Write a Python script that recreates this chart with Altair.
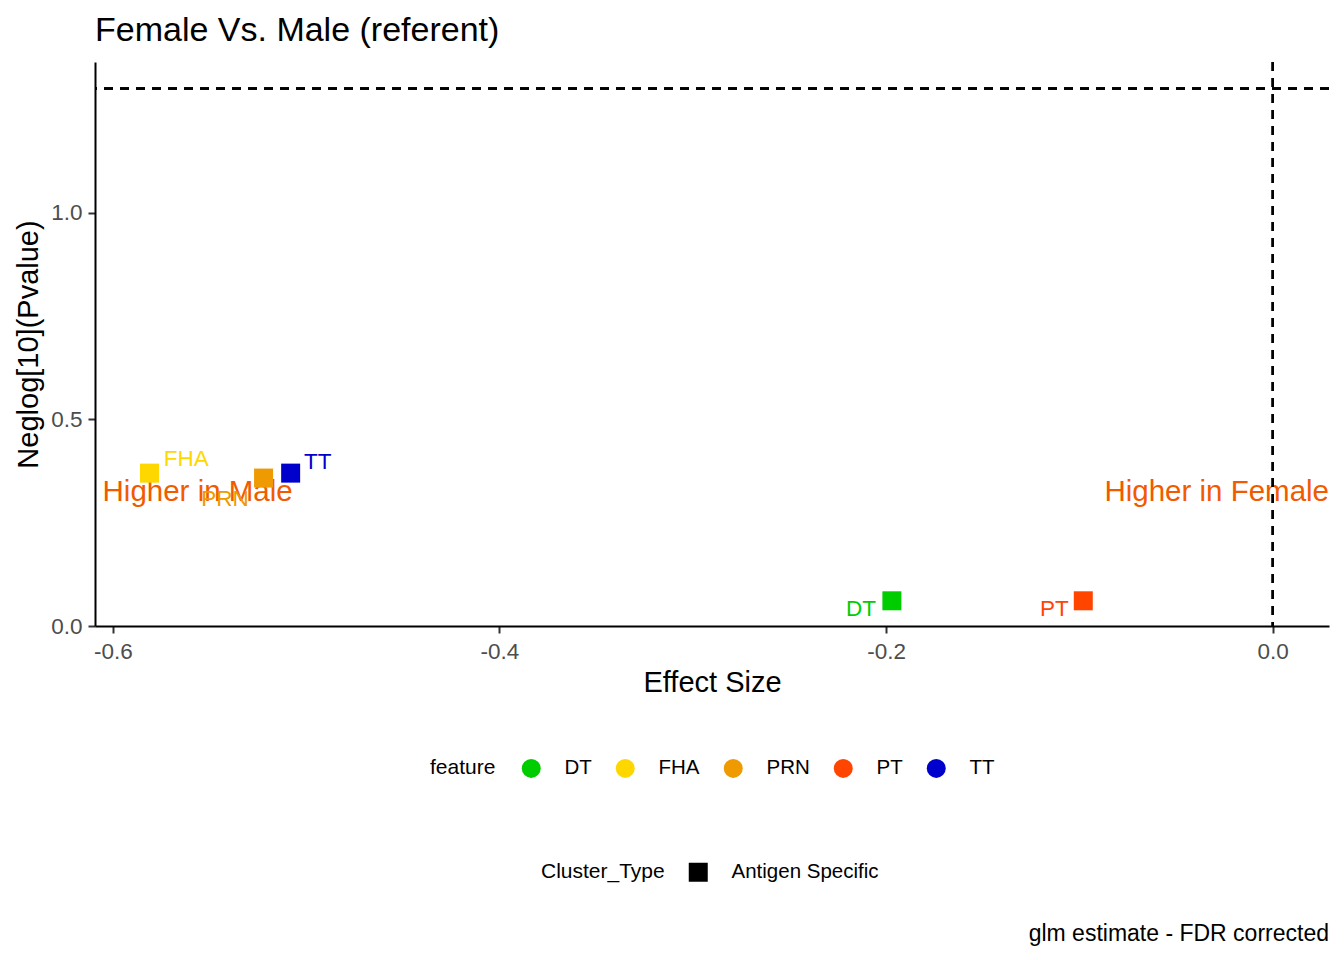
import altair as alt
import pandas as pd

# glm results
feature = ["DT", "FHA", "PRN", "PT", "TT"]
effect_size = [-0.197, -0.581, -0.522, -0.098, -0.508]
neglog_p = [0.061, 0.370, 0.358, 0.061, 0.370]
cluster_type = ["Antigen Specific"] * 5

# where the repelled labels ended up
label_x = [-0.213, -0.562, -0.542, -0.113, -0.494]
label_y = [0.040, 0.405, 0.308, 0.040, 0.397]

palette = ["#00CD00", "#FFD700", "#EE9A00", "#FF4500", "#0000CD"]

notes = ["Higher in Male", "Higher in Female"]
note_x = [-0.6053, 0.0291]
note_y = [0.324, 0.324]

x_domain = [-0.6092, 0.0291]
y_domain = [0.0, 1.365]
p_cut = 1.301  # -log10(0.05)

FONT = "Liberation Sans"

df = pd.DataFrame({
    "feature": feature,
    "effect": effect_size,
    "neglogp": neglog_p,
    "Cluster_Type": cluster_type,
    "lx": label_x,
    "ly": label_y,
})
notes_df = pd.DataFrame({"note": notes, "x": note_x, "y": note_y})

xs = alt.Scale(domain=x_domain, nice=False, zero=False)
ys = alt.Scale(domain=y_domain, nice=False, zero=False)
cs = alt.Scale(domain=feature, range=palette)

color_legend = alt.Legend(
    title="feature", orient="none", legendX=335, legendY=696,
    direction="horizontal", titleOrient="left", titlePadding=25,
    symbolType="circle", symbolSize=361, symbolStrokeWidth=0,
    labelOffset=23, columnPadding=23, padding=0,
)

x_axis = alt.Axis(
    values=[-0.6, -0.4, -0.2, 0.0], title="Effect Size",
    labelExpr="datum.value < 0 ? '-' + format(-datum.value, '.1f') : format(datum.value, '.1f')",
    labelPadding=7, titleY=65, titleBaseline="alphabetic",
)
y_axis = alt.Axis(
    values=[0.0, 0.5, 1.0], format=".1f", title="Neglog[10](Pvalue)",
    labelPadding=6, titleX=-52, titleY=282, titleBaseline="bottom",
)

points = alt.Chart(df).mark_point(shape="square", filled=True, size=361, opacity=1).encode(
    alt.X("effect:Q", scale=xs, axis=x_axis),
    alt.Y("neglogp:Q", scale=ys, axis=y_axis),
    alt.Color("feature:N", scale=cs, legend=color_legend),
    alt.Shape("Cluster_Type:N", scale=alt.Scale(range=["square"]),
              legend=alt.Legend(title="Cluster_Type", orient="none", legendX=446, legendY=800,
                                direction="horizontal", titleOrient="left", titlePadding=23,
                                symbolSize=361, symbolFillColor="black", symbolStrokeColor="black",
                                symbolStrokeWidth=0, labelOffset=23, padding=0)),
)

labels = alt.Chart(df).mark_text(fontSize=22.5, font=FONT, baseline="middle").encode(
    alt.X("lx:Q", scale=xs),
    alt.Y("ly:Q", scale=ys),
    alt.Color("feature:N", scale=cs, legend=color_legend),
    alt.Text("feature:N"),
)

male = alt.Chart(notes_df).transform_filter("datum.note == 'Higher in Male'").mark_text(
    fontSize=29.5, font=FONT, color="#F25A00", align="left", baseline="middle"
).encode(alt.X("x:Q", scale=xs), alt.Y("y:Q", scale=ys), alt.Text("note:N"))

female = alt.Chart(notes_df).transform_filter("datum.note == 'Higher in Female'").mark_text(
    fontSize=29.5, font=FONT, color="#F25A00", align="right", baseline="middle"
).encode(alt.X("x:Q", scale=xs), alt.Y("y:Q", scale=ys), alt.Text("note:N"))

hline = alt.Chart(df).mark_rule(color="black", strokeWidth=2, strokeDash=[9, 7]).encode(
    y=alt.datum(p_cut)
)
vline = alt.Chart(df).mark_rule(color="black", strokeWidth=2, strokeDash=[9, 7]).encode(
    x=alt.datum(0.0)
)

caption = alt.Chart(pd.DataFrame({"t": ["glm estimate - FDR corrected"]})).mark_text(
    fontSize=23, font=FONT, color="black", align="right", baseline="middle"
).encode(x=alt.value(1234), y=alt.value(872), text="t:N")

chart = alt.layer(male, female, hline, vline, points, labels, caption).properties(
    width=1234, height=564,
    autosize=alt.AutoSizeParams(type="none"),
    padding={"left": 87, "top": 54, "right": 7, "bottom": 334},
    title=alt.TitleParams("Female Vs. Male (referent)", anchor="start", fontSize=34,
                          font=FONT, fontWeight="normal", color="black", offset=13,
                          frame="group"),
).configure_view(stroke=None).configure_axis(
    grid=False, domainColor="black", domainWidth=2, tickColor="#333333", tickWidth=2,
    tickSize=7, labelColor="#4D4D4D", labelFontSize=22.5, labelFont=FONT,
    titleFontSize=29, titleFont=FONT, titleColor="black", titleFontWeight="normal",
).configure_legend(
    labelFontSize=20.5, labelFont=FONT, labelColor="black",
    titleFontSize=21, titleFont=FONT, titleColor="black", titleFontWeight="normal",
)

chart.save("out.html", embed_options={"renderer": "svg", "actions": False})
